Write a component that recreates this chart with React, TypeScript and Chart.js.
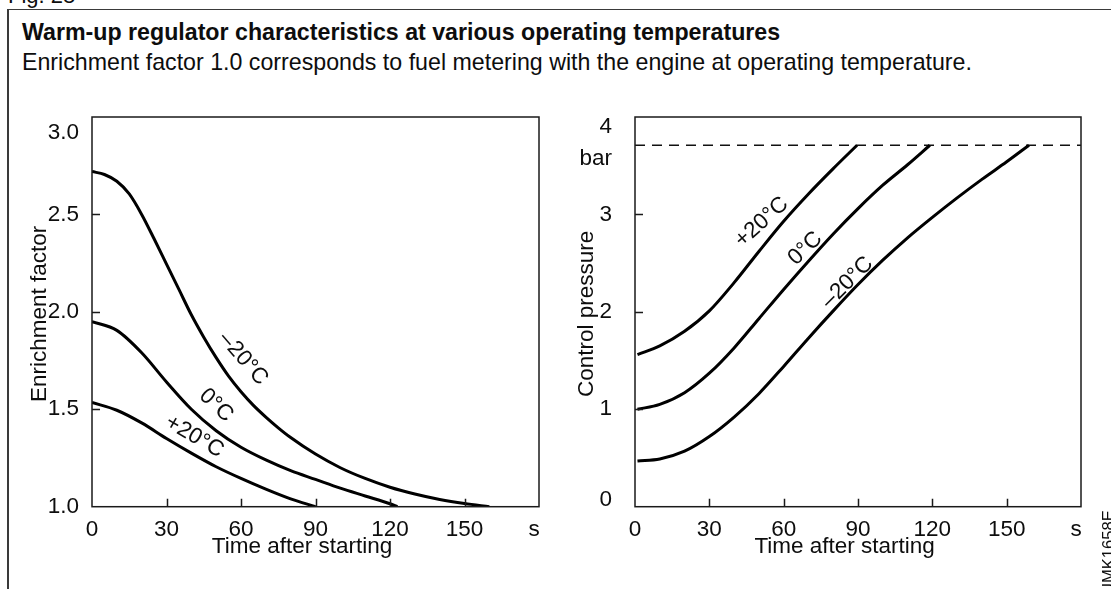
import React, { useEffect, useRef } from "react";
import { Chart, registerables } from "chart.js";

Chart.register(...registerables);

const FONT = '"Liberation Sans", Arial, Helvetica, sans-serif';
const W = 1111;
const H = 589;

// ---------- Left chart: enrichment factor ----------
const enrichTimeM20 = [0, 5, 10, 15, 20, 25, 30, 35, 40, 45, 50, 55, 60, 65, 70, 75, 80, 90, 100, 110, 120, 130, 140, 150, 160];
const enrichM20 = [2.72, 2.705, 2.67, 2.605, 2.5, 2.375, 2.245, 2.115, 1.985, 1.87, 1.765, 1.67, 1.59, 1.52, 1.46, 1.405, 1.355, 1.27, 1.2, 1.145, 1.1, 1.065, 1.037, 1.016, 1.0];
const enrichTime0 = [0, 10, 20, 30, 40, 50, 60, 70, 80, 90, 100, 110, 120, 123];
const enrich0 = [1.95, 1.905, 1.79, 1.64, 1.5, 1.39, 1.305, 1.24, 1.185, 1.14, 1.095, 1.055, 1.015, 1.0];
const enrichTimeP20 = [0, 10, 20, 30, 40, 50, 60, 70, 80, 90];
const enrichP20 = [1.535, 1.495, 1.43, 1.35, 1.275, 1.205, 1.145, 1.09, 1.04, 1.0];

const enrichTickValues = [1.0, 1.5, 2.0, 2.5, 2.92];
const enrichTickLabels = ["1.0", "1.5", "2.0", "2.5", "3.0"];
const enrichTickMarks = [1.5, 2.0, 2.5];

// ---------- Right chart: control pressure ----------
const pressTimeP20 = [1, 10, 20, 30, 40, 50, 60, 70, 80, 89.6];
const pressP20 = [1.56, 1.65, 1.8, 2.01, 2.3, 2.62, 2.93, 3.21, 3.47, 3.71];
const pressTime0 = [1, 10, 20, 30, 40, 50, 60, 70, 80, 90, 100, 110, 119];
const press0 = [1.0, 1.05, 1.17, 1.37, 1.63, 1.93, 2.23, 2.52, 2.8, 3.06, 3.3, 3.51, 3.71];
const pressTimeM20 = [1, 10, 20, 30, 40, 50, 60, 70, 80, 90, 100, 110, 120, 130, 140, 150, 159];
const pressM20 = [0.47, 0.49, 0.57, 0.72, 0.92, 1.16, 1.44, 1.73, 2.01, 2.28, 2.53, 2.76, 2.97, 3.17, 3.36, 3.54, 3.71];
const limitTime = [0, 180];
const limitPressure = [3.71, 3.71];

const pressTickValues = [0.07, 1, 2, 3, 3.57, 3.9];
const pressTickLabels = ["0", "1", "2", "3", "bar", "4"];
const pressTickMarks = [1, 2, 3];

// ---------- Shared time axis ----------
const timeTickValues = [0, 30, 60, 90, 120, 150, 178];
const timeTickLabels = ["0", "30", "60", "90", "120", "150", "s"];
const timeTickMarks = [30, 60, 90, 120, 150];

// ---------- Curve labels (data coordinates) ----------
const leftLabelTexts = ["\u201320\u00b0C", "0\u00b0C", "+20\u00b0C"];
const leftLabelTimes = [60.9, 50, 41.3];
const leftLabelValues = [1.76, 1.52, 1.36];
const leftLabelAngles = [49, 43, 30];

const rightLabelTexts = ["+20\u00b0C", "0\u00b0C", "\u201320\u00b0C"];
const rightLabelTimes = [51.1, 68.7, 85.7];
const rightLabelValues = [2.92, 2.65, 2.3];
const rightLabelAngles = [-42, -44, -45];

const zip = (xs: number[], ys: number[]) => xs.map((x, i) => ({ x, y: ys[i] }));

const curve = (xs: number[], ys: number[]) => ({
  data: zip(xs, ys),
  borderColor: "#000",
  borderWidth: 3,
  pointRadius: 0,
  fill: false,
  cubicInterpolationMode: "monotone",
});

const decorPlugin = {
  id: "decor",
  afterDatasetsDraw(chart: any, _args: any, o: any) {
    const { ctx, chartArea: a, scales } = chart;
    const x = scales.x;
    const y = scales.y;
    ctx.save();
    ctx.strokeStyle = "#1a1a1a";
    ctx.lineWidth = 1.5;
    ctx.strokeRect(a.left, a.top, a.right - a.left, a.bottom - a.top);
    ctx.beginPath();
    for (const v of o.xMarks) {
      const px = Math.round(x.getPixelForValue(v)) + 0.5;
      ctx.moveTo(px, a.bottom);
      ctx.lineTo(px, a.bottom - 8);
    }
    for (const v of o.yMarks) {
      const py = Math.round(y.getPixelForValue(v)) + 0.5;
      ctx.moveTo(a.left, py);
      ctx.lineTo(a.left + 8, py);
    }
    ctx.stroke();

    ctx.fillStyle = "#0d0d0d";
    ctx.font = `22.5px ${FONT}`;
    ctx.textAlign = "center";
    ctx.textBaseline = "middle";
    o.labelTexts.forEach((t: string, i: number) => {
      ctx.save();
      ctx.translate(x.getPixelForValue(o.labelTimes[i]), y.getPixelForValue(o.labelValues[i]));
      ctx.rotate((o.labelAngles[i] * Math.PI) / 180);
      ctx.fillText(t, 0, 0);
      ctx.restore();
    });

    ctx.font = `22.5px ${FONT}`;
    ctx.fillText(o.xTitle, a.left + (a.right - a.left) * 0.47, 546.5);
    ctx.save();
    ctx.translate(o.yTitleX, (a.top + a.bottom) / 2 + 2);
    ctx.rotate(-Math.PI / 2);
    ctx.fillText(o.yTitle, 0, 0);
    ctx.restore();
    ctx.restore();
  },
};

function buildConfig(p: any) {
  const tickFont = { family: FONT, size: 22.5 };
  return {
    type: "line",
    data: { datasets: p.datasets },
    plugins: [decorPlugin],
    options: {
      responsive: true,
      maintainAspectRatio: false,
      animation: false,
      devicePixelRatio: 1,
      events: [],
      layout: { padding: { left: p.padLeft, top: p.plotTop, right: W - p.plotRight, bottom: 0 } },
      plugins: {
        legend: { display: false },
        tooltip: { enabled: false },
        decor: {
          xMarks: timeTickMarks,
          yMarks: p.yMarks,
          labelTexts: p.labelTexts,
          labelTimes: p.labelTimes,
          labelValues: p.labelValues,
          labelAngles: p.labelAngles,
          xTitle: "Time after starting",
          yTitle: p.yTitle,
          yTitleX: p.yTitleX,
        },
      },
      scales: {
        x: {
          type: "linear",
          min: 0,
          max: 180,
          afterBuildTicks: (s: any) => {
            s.ticks = timeTickValues.map((v) => ({ value: v }));
          },
          afterFit: (s: any) => {
            s.height = H - p.plotBottom;
          },
          ticks: {
            autoSkip: false,
            maxRotation: 0,
            padding: 2,
            color: "#0d0d0d",
            font: tickFont,
            callback: (_v: any, i: number) => timeTickLabels[i],
          },
          grid: { display: false },
          border: { display: false },
        },
        y: {
          type: "linear",
          min: p.yMin,
          max: p.yMax,
          afterBuildTicks: (s: any) => {
            s.ticks = p.yTickValues.map((v: number) => ({ value: v }));
          },
          afterFit: (s: any) => {
            s.width = p.plotLeft - p.padLeft;
          },
          ticks: {
            autoSkip: false,
            padding: p.yTickPadding,
            color: "#0d0d0d",
            font: tickFont,
            callback: (_v: any, i: number) => p.yTickLabels[i],
          },
          grid: { display: false },
          border: { display: false },
        },
      },
    },
  };
}

const leftConfig = () =>
  buildConfig({
    datasets: [
      curve(enrichTimeM20, enrichM20),
      curve(enrichTime0, enrich0),
      curve(enrichTimeP20, enrichP20),
    ],
    padLeft: 0,
    plotLeft: 92,
    plotRight: 539,
    plotTop: 117,
    plotBottom: 506.7,
    yMin: 1,
    yMax: 3,
    yTickValues: enrichTickValues,
    yTickLabels: enrichTickLabels,
    yMarks: enrichTickMarks,
    yTickPadding: 5,
    labelTexts: leftLabelTexts,
    labelTimes: leftLabelTimes,
    labelValues: leftLabelValues,
    labelAngles: leftLabelAngles,
    yTitle: "Enrichment factor",
    yTitleX: 40,
  });

const rightConfig = () =>
  buildConfig({
    datasets: [
      curve(pressTimeP20, pressP20),
      curve(pressTime0, press0),
      curve(pressTimeM20, pressM20),
      {
        data: zip(limitTime, limitPressure),
        borderColor: "#111",
        borderWidth: 1.5,
        borderDash: [10, 7],
        pointRadius: 0,
        fill: false,
      },
    ],
    padLeft: 560,
    plotLeft: 635,
    plotRight: 1081,
    plotTop: 117,
    plotBottom: 506.7,
    yMin: 0,
    yMax: 4,
    yTickValues: pressTickValues,
    yTickLabels: pressTickLabels,
    yMarks: pressTickMarks,
    yTickPadding: 15,
    labelTexts: rightLabelTexts,
    labelTimes: rightLabelTimes,
    labelValues: rightLabelValues,
    labelAngles: rightLabelAngles,
    yTitle: "Control pressure",
    yTitleX: 586.4,
  });

function ChartPanel({ build }: { build: () => any }) {
  const ref = useRef<HTMLCanvasElement>(null);
  useEffect(() => {
    const chart = new Chart(ref.current as HTMLCanvasElement, build());
    return () => chart.destroy();
  }, []);
  return (
    <div style={{ position: "absolute", left: 0, top: 0, width: W, height: H }}>
      <canvas ref={ref} />
    </div>
  );
}

export default function App() {
  return (
    <div
      style={{
        position: "fixed",
        left: 0,
        top: 0,
        width: W,
        height: H,
        overflow: "hidden",
        background: "#fff",
        fontFamily: FONT,
        color: "#0d0d0d",
      }}
    >
      <div
        style={{
          position: "absolute",
          left: 7,
          top: 8.5,
          width: 1130,
          height: 620,
          borderLeft: "2px solid #3a3a3a",
          borderTop: "1.5px solid #3a3a3a",
          boxSizing: "border-box",
        }}
      />
      <div style={{ position: "absolute", left: 8, top: -15, fontSize: 22, lineHeight: "22px", whiteSpace: "nowrap" }}>
        Fig. 28
      </div>
      <div
        style={{ position: "absolute", left: 22, top: 20, fontSize: 23.2, fontWeight: "bold", lineHeight: "24px", whiteSpace: "nowrap" }}
      >
        Warm-up regulator characteristics at various operating temperatures
      </div>
      <div style={{ position: "absolute", left: 22, top: 50, fontSize: 23.2, lineHeight: "24px", whiteSpace: "nowrap" }}>
        Enrichment factor 1.0 corresponds to fuel metering with the engine at operating temperature.
      </div>
      <ChartPanel build={leftConfig} />
      <ChartPanel build={rightConfig} />
      <div
        style={{
          position: "absolute",
          left: 1100,
          top: 595,
          fontSize: 16.6,
          lineHeight: "17px",
          transform: "rotate(-90deg)",
          transformOrigin: "0 0",
          whiteSpace: "nowrap",
        }}
      >
        UMK1658E
      </div>
    </div>
  );
}
